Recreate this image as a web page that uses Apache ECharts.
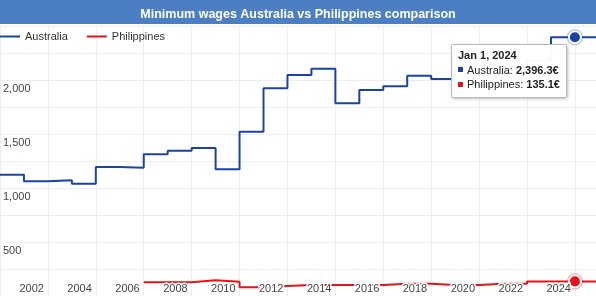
<!DOCTYPE html>
<html>
<head>
<meta charset="utf-8">
<script src="https://cdn.jsdelivr.net/npm/echarts@6/dist/echarts.min.js"></script>
<style>
html,body{margin:0;padding:0;background:#fff;}
#c{width:596px;height:296px;}
</style>
</head>
<body>
<div id="c"></div>
<script>
const titleText = 'Minimum wages Australia vs Philippines comparison';
const seriesNames = ['Australia', 'Philippines'];
const years = [2000,2001,2002,2003,2004,2005,2006,2007,2008,2009,2010,2011,2012,2013,2014,2015,2016,2017,2018,2019,2020,2021,2022,2023,2024,2025];
const australia = [1123,1123,1062,1071,1040,1194,1188,1312,1345,1370,1173,1521,1923,2047,2105,1784,1907,1941,2040,2009,1980,2050,2120,2180,2396.3,2396.3];
const philippines = [null,null,null,null,null,null,128,128,128,146,131,82,92,101,101,101,101,113,113,101,101,113,113,135,135.1,135.1];
const highlightYear = 2024;
const yLabelValues = [500,1000,1500,2000];

const FONT = '"Liberation Sans", Arial, sans-serif';
const BLUE = '#1a44a3';
const RED = '#e2141c';

function fmt(v){
  const s = v.toFixed(1).split('.');
  return s[0].replace(/\B(?=(\d{3})+(?!\d))/g, ',') + '.' + s[1];
}
function pairs(arr){
  const out = [];
  years.forEach((y,i) => { if (arr[i] !== null) out.push([y, arr[i]]); });
  return out;
}

const chart = echarts.init(document.getElementById('c'), null, {renderer:'canvas'});
const markerSym = (val) => (val[0] === highlightYear ? 'circle' : 'none');
const ausData = pairs(australia);
const phlData = pairs(philippines);

chart.setOption({
  animation: false,
  backgroundColor: '#fff',
  textStyle: {fontFamily: FONT},
  graphic: [{type:'rect', left:0, top:0, z:-1, shape:{width:596, height:24}, style:{fill:'#4c7fc1'}}],
  title: {
    text: titleText, left: 'center', top: 3,
    textStyle: {color:'#fff', fontSize:12.5, fontWeight:'bold', fontFamily: FONT}
  },
  legend: {
    left: 0, top: 31, padding: 0, icon: 'rect', itemWidth: 20, itemHeight: 2, itemGap: 19,
    itemStyle: {borderWidth: 0, shadowBlur: 0},
    textStyle: {fontSize: 11, color: '#333', fontFamily: FONT},
    data: seriesNames
  },
  grid: {left: 0, right: 0, top: 26, bottom: 0, containLabel: false},
  tooltip: {
    trigger: 'axis', triggerOn: 'none', alwaysShowContent: true,
    position: [451, 44], transitionDuration: 0,
    axisPointer: {type: 'line', lineStyle: {color: 'rgba(0,0,0,0)'}},
    backgroundColor: 'rgba(255,255,255,0.97)', borderColor: '#b8b8b8', borderWidth: 1,
    padding: [3, 6, 5, 6],
    textStyle: {fontSize: 11, color: '#222', fontFamily: FONT, lineHeight: 14.5},
    extraCssText: 'border-radius:2px;box-shadow:1px 1px 3px rgba(0,0,0,0.25);line-height:14.5px;',
    formatter: (params) => {
      let s = '<div style="font-weight:bold">Jan 1, ' + params[0].value[0] + '</div>';
      params.forEach(p => {
        s += '<div><span style="display:inline-block;width:5px;height:5px;background:' + p.color +
             ';margin-right:4px;vertical-align:middle;position:relative;top:-1px"></span>' + p.seriesName +
             ': <b>' + fmt(p.value[1]) + '€</b></div>';
      });
      return s;
    }
  },
  xAxis: [{
    type: 'value', min: 2000, max: 2024.88, interval: 2, position: 'bottom',
    axisLine: {show: false}, axisTick: {show: false}, axisLabel: {show: false},
    splitLine: {show: true, lineStyle: {color: '#eeeeee', width: 1}}
  }, {
    type: 'value', min: 2000, max: 2024.88, interval: 2, position: 'bottom', z: 10,
    axisLine: {show: false}, axisTick: {show: false}, splitLine: {show: false},
    axisPointer: {show: false},
    axisLabel: {
      inside: true, margin: 2, align: 'right', padding: [0, 4, 0, 0],
      showMaxLabel: false, showMinLabel: false,
      color: '#444', fontSize: 11, fontFamily: FONT,
      textBorderColor: '#fff', textBorderWidth: 3,
      formatter: (v) => String(Math.round(v))
    }
  }],
  yAxis: {
    type: 'value', min: 0, max: 2500, interval: 250,
    axisLine: {show: false}, axisTick: {show: false},
    splitLine: {show: true, lineStyle: {color: '#eeeeee', width: 1}},
    axisLabel: {
      inside: true, margin: 3, verticalAlign: 'top', padding: [3, 0, 0, 0],
      color: '#444', fontSize: 11, fontFamily: FONT,
      formatter: (v) => (yLabelValues.indexOf(v) >= 0 ? v.toLocaleString('en-US') : '')
    }
  },
  series: [{
    name: seriesNames[0], type: 'line', step: 'start', xAxisIndex: 0,
    data: ausData, color: BLUE,
    showSymbol: true, showAllSymbol: true, symbol: markerSym, symbolSize: 11,
    itemStyle: {color: BLUE, borderColor: '#fff', borderWidth: 2, shadowColor: BLUE, shadowBlur: 2},
    lineStyle: {color: BLUE, width: 2},
    emphasis: {disabled: true}
  }, {
    name: seriesNames[1], type: 'line', step: 'start', xAxisIndex: 0,
    data: phlData, color: RED,
    showSymbol: true, showAllSymbol: true, symbol: markerSym, symbolSize: 11,
    itemStyle: {color: RED, borderColor: '#fff', borderWidth: 2, shadowColor: RED, shadowBlur: 2},
    lineStyle: {color: RED, width: 2},
    emphasis: {disabled: true}
  }]
});

chart.dispatchAction({type: 'showTip', seriesIndex: 0, dataIndex: ausData.findIndex(d => d[0] === highlightYear)});
</script>
</body>
</html>
